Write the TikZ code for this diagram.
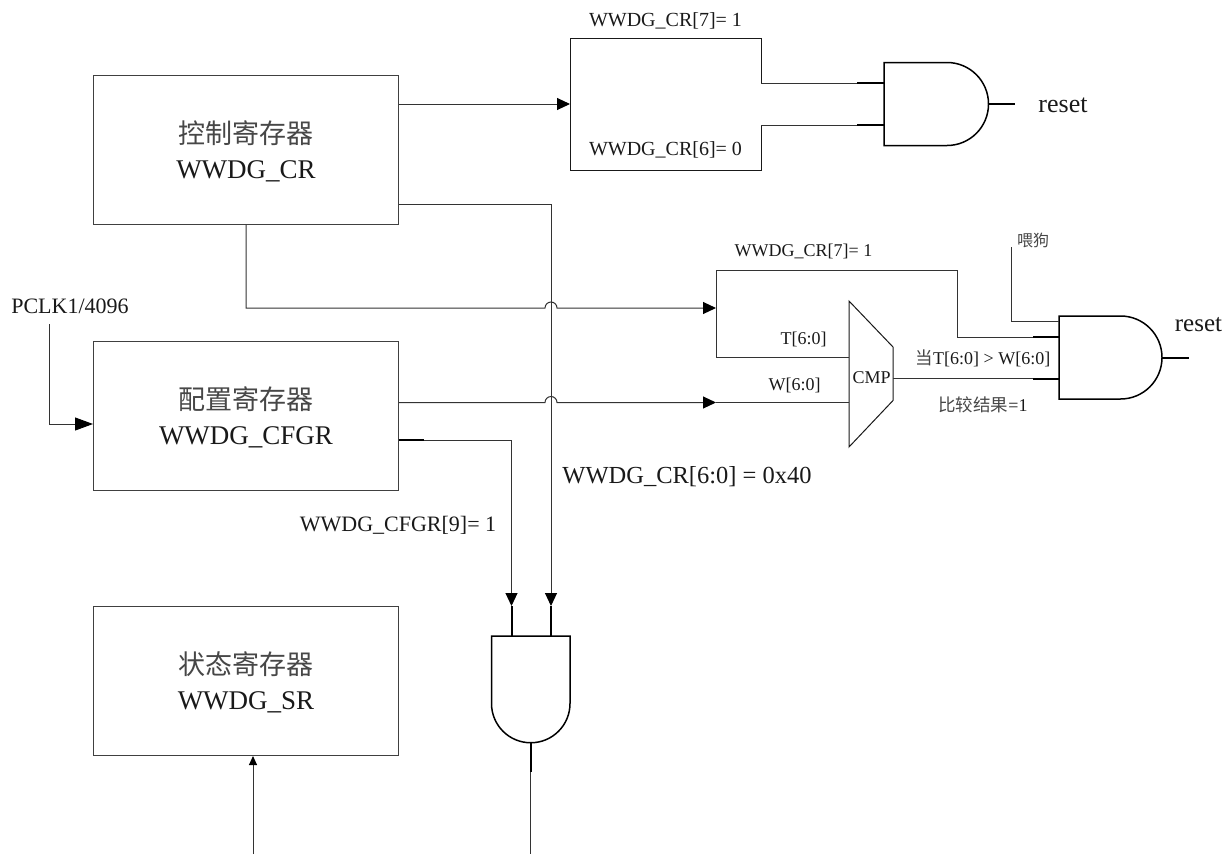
\documentclass[tikz,border=0pt]{standalone}
\usepackage{fontspec}
\usepackage{xcolor}
\setmainfont{Liberation Serif}
\newfontfamily\cjkraw{Noto Sans CJK SC}
\newcommand{\zh}[1]{{\cjkraw\color{black!72}#1}}
\usetikzlibrary{arrows.meta}
\tikzset{
  wire/.style={draw=black!80,line width=1pt},
  arrowwire/.style={wire,-{Triangle[length=13pt,width=12pt,color=black]}},
  bigarrow/.style={wire,-{Triangle[length=18pt,width=13pt,color=black]}},
  smallarrow/.style={wire,-{Triangle[length=9pt,width=8pt,color=black]}},
  gatebody/.style={draw=black,line width=1.5pt,fill=white},
  pin/.style={draw=black,line width=2pt},
  reg/.style={draw=black!75,line width=1pt,fill=white,minimum width=305pt,minimum height=149pt,align=center,inner sep=0pt},
  regtext/.style={font=\fontsize{27}{35}\selectfont,align=center,inner sep=0pt,text=black!90},
  lab/.style={font=\fontsize{18}{20}\selectfont,inner sep=0pt,text=black!90},
  lab2/.style={font=\fontsize{20}{22}\selectfont,inner sep=0pt,text=black!90},
}
\begin{document}
\begin{tikzpicture}[x=1pt,y=-1pt]
\useasboundingbox (0,0) rectangle (1231,854);
\node[reg] (cr) at (246,149.5) {};
\node[regtext] (crt) at (246,151) {\zh{控制寄存器}\\WWDG\_CR};
\node[reg] (cfgr) at (246,415.5) {};
\node[regtext] (cfgrt) at (246,417) {\zh{配置寄存器}\\WWDG\_CFGR};
\node[reg] (sr) at (246,681) {};
\node[regtext] (srt) at (246,682.5) {\zh{状态寄存器}\\WWDG\_SR};
% top block: right side is open between the two wires
\coordinate (tbin) at (570,104);
\draw[draw=black!90,line width=1pt] (761,83) -- (761,38) -- (570,38) -- (570,170) -- (761,170) -- (761,125);
\node[lab2] (t1) at (665.5,20.5) {WWDG\_CR[7]= 1};
\node[lab2] (t2) at (665.5,149.5) {WWDG\_CR[6]= 0};
% gate 1
\path[gatebody] (884,62.5) -- (947,62.5) arc[start angle=-90,end angle=90,radius=41.5] -- (884,145.5) -- cycle;
\coordinate (g1a) at (884,83); \coordinate (g1b) at (884,125); \coordinate (g1o) at (988,104);
\coordinate (g1ap) at (857,83); \coordinate (g1bp) at (857,125);
\draw[pin] (g1ap) -- (g1a); \draw[pin] (g1bp) -- (g1b);
\draw[wire] (761,83) -- (g1ap);
\draw[wire] (761,125) -- (g1bp);
\draw[pin] (g1o) -- (1015,104);
\node[lab,font=\fontsize{26}{28}\selectfont] (r1) at (1063,105) {reset};
\draw[arrowwire] (cr.east |- tbin) -- (tbin);
% gate 2
\path[gatebody] (1059,316) -- (1120.5,316) arc[start angle=-90,end angle=90,radius=41.5] -- (1059,399) -- cycle;
\coordinate (g2a) at (1059,337); \coordinate (g2b) at (1059,378.5); \coordinate (g2f) at (1059,321);
\coordinate (g2ap) at (1033,337); \coordinate (g2bp) at (1033,378.5);
\draw[pin] (g2ap) -- (g2a); \draw[pin] (g2bp) -- (g2b);
\draw[pin] (1162,357.5) -- (1189,357.5);
\node[lab,font=\fontsize{25}{27}\selectfont] (r2) at (1198.5,325) {reset};
\draw[wire] (1011,247) |- (g2f);
\node[lab,font=\fontsize{16}{18}\selectfont] (wei) at (1033,240) {\zh{喂狗}};
% CMP
\draw[draw=black!90,line width=1pt,fill=white] (849,301) -- (893,347) -- (893,400.5) -- (849,447) -- cycle;
\coordinate (cmpT) at (849,357); \coordinate (cmpW) at (849,402.5); \coordinate (cmpO) at (893,378.5);
\node[lab] (cmp) at (871.5,378) {CMP};
% feed
\coordinate (fb) at (716,308);
\draw[wire] (fb) -- (716,270) -- (957,270) -- (957,337) -- (g2ap);
\draw[wire] (fb) -- (716,357) -- (cmpT);
\draw[wire] (cmpO) -- (g2bp);
\node[lab] (l1) at (803.5,251) {WWDG\_CR[7]= 1};
\node[lab] (l2) at (803.5,339) {T[6:0]};
\node[lab] (l3) at (794.5,385) {W[6:0]};
\node[lab] (l4) at (983,358) {{\fontsize{17.5}{20}\selectfont\zh{当}}T[6:0] > W[6:0]};
\node[lab] (l5) at (983,405) {{\fontsize{17.5}{20}\selectfont\zh{比较结果}}=1};
% wires from CR
\draw[arrowwire] (cr.south -| 246,0) -- (246,308) -- (545,308) arc[start angle=180,end angle=360,radius=6] -- (fb);
\draw[arrowwire] (cfgr.east |- cmpW) -- (545,402.5) arc[start angle=180,end angle=360,radius=6] -- (716,402.5);
\draw[wire] (716,402.5) -- (cmpW);
% lower gate
\path[gatebody] (491.5,636) -- (570,636) -- (570,703.5) arc[start angle=0,end angle=180,radius=39.25] -- cycle;
\coordinate (g3a) at (511.5,636); \coordinate (g3b) at (551,636);
\coordinate (g3ap) at (511.5,606); \coordinate (g3bp) at (551,606);
\draw[pin] (g3ap) -- (g3a);
\draw[pin] (g3bp) -- (g3b);
\draw[arrowwire] (cr.east |- 0,204) -- (551,204) -- (g3bp);
\draw[arrowwire] (cfgr.east |- 0,440) -- (511.5,440) -- (g3ap);
\draw[pin] (cfgr.east |- 0,440) -- (424,440);
\coordinate (g3o) at (530.75,742.75); \coordinate (g3op) at (530.75,772);
\draw[pin] (g3o) -- (g3op);
\draw[wire] (g3op) -- (530.75,854);
\draw[smallarrow] (253,854) -- (sr.south -| 253,0);
\node[lab,font=\fontsize{22}{24}\selectfont] (l6) at (398,525) {WWDG\_CFGR[9]= 1};
\node[lab,font=\fontsize{24.5}{26}\selectfont] (l7) at (687,477) {WWDG\_CR[6:0] = 0x40};
\node[lab,font=\fontsize{22}{24}\selectfont] (l8) at (70,306) {PCLK1/4096};
\draw[bigarrow] (49,324) -- (49,424) -- (cfgr.west |- 0,424);
\end{tikzpicture}
\end{document}
